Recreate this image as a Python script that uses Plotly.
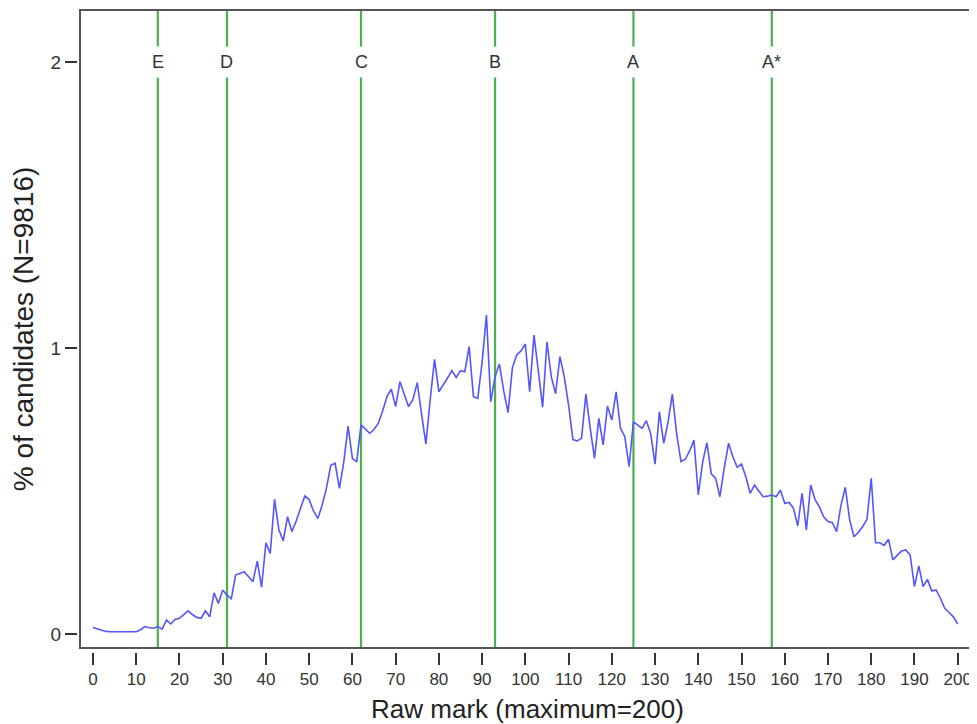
import plotly.graph_objects as go

# Raw marks and percentage of candidates
marks = list(range(0, 201))
pct = [
    0.023, 0.018, 0.013, 0.009, 0.008, 0.008, 0.008, 0.008, 0.008, 0.008,  # 0-9
    0.008, 0.015, 0.026, 0.022, 0.020, 0.026, 0.017, 0.049, 0.035, 0.051,  # 10-19
    0.055, 0.068, 0.081, 0.068, 0.058, 0.055, 0.081, 0.060, 0.144, 0.107,  # 20-29
    0.154, 0.136, 0.124, 0.206, 0.212, 0.218, 0.200, 0.183, 0.255, 0.164,  # 30-39
    0.319, 0.282, 0.471, 0.364, 0.326, 0.410, 0.358, 0.395, 0.440, 0.483,  # 40-49
    0.470, 0.430, 0.404, 0.450, 0.510, 0.590, 0.597, 0.509, 0.600, 0.727,  # 50-59
    0.614, 0.602, 0.731, 0.715, 0.702, 0.715, 0.737, 0.780, 0.830, 0.856,  # 60-69
    0.795, 0.882, 0.840, 0.795, 0.820, 0.879, 0.770, 0.664, 0.820, 0.960,  # 70-79
    0.847, 0.870, 0.895, 0.921, 0.897, 0.921, 0.917, 1.005, 0.830, 0.824,  # 80-89
    0.950, 1.115, 0.812, 0.900, 0.944, 0.850, 0.774, 0.930, 0.976, 0.990,  # 90-99
    1.014, 0.847, 1.045, 0.920, 0.793, 1.022, 0.900, 0.840, 0.970, 0.900,  # 100-109
    0.800, 0.680, 0.675, 0.684, 0.839, 0.720, 0.614, 0.754, 0.661, 0.797,  # 110-119
    0.748, 0.847, 0.720, 0.690, 0.585, 0.742, 0.730, 0.719, 0.746, 0.700,  # 120-129
    0.594, 0.777, 0.667, 0.740, 0.839, 0.700, 0.603, 0.611, 0.640, 0.678,  # 130-139
    0.486, 0.600, 0.669, 0.560, 0.545, 0.480, 0.580, 0.667, 0.620, 0.583,  # 140-149
    0.594, 0.550, 0.492, 0.521, 0.500, 0.480, 0.482, 0.486, 0.480, 0.503,  # 150-159
    0.457, 0.460, 0.440, 0.378, 0.492, 0.364, 0.521, 0.470, 0.445, 0.410,  # 160-169
    0.393, 0.389, 0.358, 0.450, 0.513, 0.400, 0.340, 0.355, 0.375, 0.400,  # 170-179
    0.544, 0.319, 0.319, 0.310, 0.331, 0.259, 0.275, 0.290, 0.294, 0.276,  # 180-189
    0.166, 0.238, 0.166, 0.191, 0.150, 0.154, 0.125, 0.090, 0.075, 0.060,  # 190-199
    0.035,                                                                  # 200
]

# Grade boundaries
grades = ["E", "D", "C", "B", "A", "A*"]
boundaries = [15, 31, 62, 93, 125, 157]

x_ticks = list(range(0, 201, 10))
y_ticks = [0, 1, 2]

FONT = "Liberation Sans, Arial, sans-serif"

fig = go.Figure()
fig.add_trace(go.Scatter(
    x=marks, y=pct, mode="lines",
    line=dict(color="rgb(85,85,255)", width=1.6),
    showlegend=False, hoverinfo="x+y",
))

for g, b in zip(grades, boundaries):
    fig.add_shape(type="line", xref="x", yref="y domain", x0=b, x1=b, y0=0, y1=1,
                  line=dict(color="rgb(76,175,80)", width=2.2), layer="below")
    fig.add_annotation(x=b, y=2, xref="x", yref="y", text=g, showarrow=False,
                       bgcolor="white", borderpad=5,
                       font=dict(family=FONT, size=18, color="#333333"))

# plot frame
fig.add_shape(type="rect", xref="x domain", yref="y domain", x0=0, x1=1, y0=0, y1=1,
              line=dict(color="#555555", width=2), layer="above")

# the page body adds an 8px margin, so the figure is laid out 8px up/left
fig.update_layout(
    width=969, height=716,
    paper_bgcolor="white", plot_bgcolor="white",
    margin=dict(l=60, r=2, t=2, b=64),
    xaxis=dict(
        range=[-3, 204], domain=[0.01323, 1], anchor="free", position=0.0123,
        automargin=False,
        tickmode="array", tickvals=x_ticks, ticktext=[str(t) for t in x_ticks],
        ticks="outside", ticklen=12, tickwidth=1.5, tickcolor="#333333",
        showgrid=False, zeroline=False, showline=False,
        tickfont=dict(family=FONT, size=17, color="#333333"),
        title=dict(text="Raw mark (maximum=200)", standoff=12,
                   font=dict(family=FONT, size=26, color="#222222")),
    ),
    yaxis=dict(
        range=[-0.049, 2.182], domain=[0.01846, 1], anchor="free", position=0.0099,
        automargin=False,
        tickmode="array", tickvals=y_ticks, ticktext=[str(t) for t in y_ticks],
        ticks="outside", ticklen=12, tickwidth=1.5, tickcolor="#333333",
        showgrid=False, zeroline=False, showline=False,
        tickfont=dict(family=FONT, size=19, color="#333333"),
        title=dict(text="% of candidates (N=9816)", standoff=10,
                   font=dict(family=FONT, size=28, color="#222222")),
    ),
)

fig.write_html("out.html")
